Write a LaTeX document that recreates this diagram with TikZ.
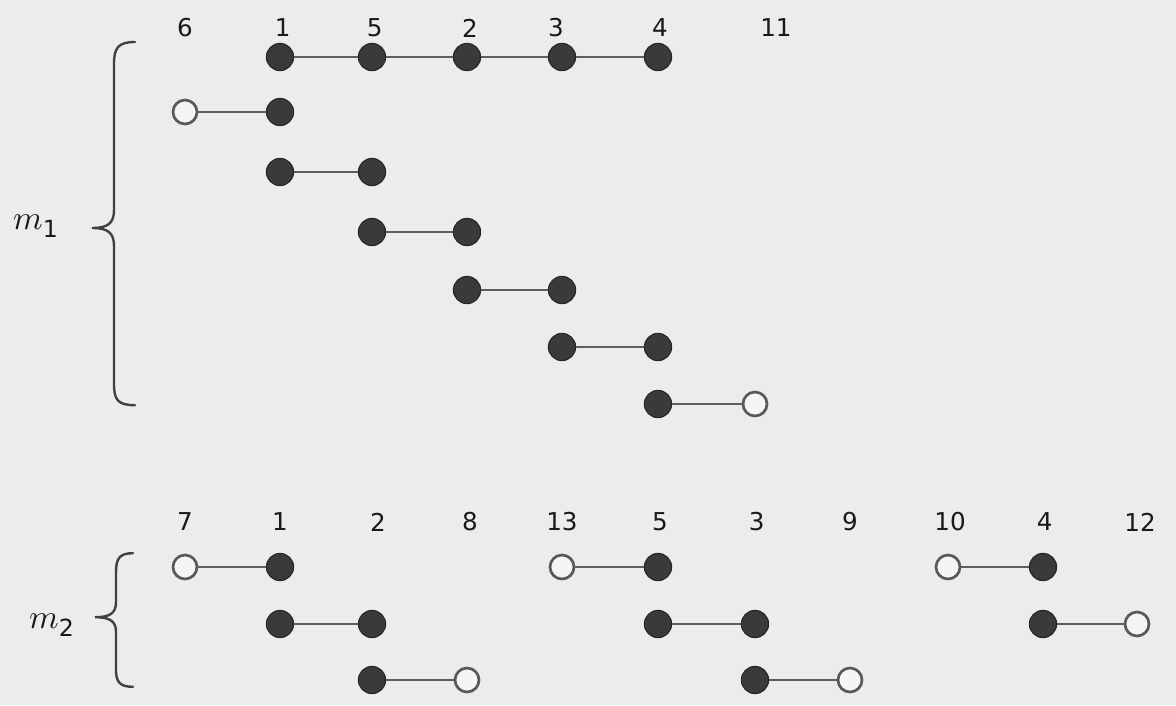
\documentclass[tikz,border=0pt]{standalone}
\usepackage{fontspec}
\usepackage{unicode-math}
\setmainfont{DejaVu Sans}
\setmathfont{Latin Modern Math}

\definecolor{paper}{HTML}{ECECEA}
\definecolor{ink}{HTML}{3A3A3A}
\definecolor{wire}{HTML}{5E5E5E}

\begin{document}
\begin{tikzpicture}[
  every node/.style={font=\fontsize{17.5}{21}\selectfont, text=black!90},
  dot/.style={
    circle,
    draw=black!85,
    fill=ink,
    line width=0.8pt,
    minimum size=0.68cm,
    inner sep=0pt
  },
  hollow/.style={
    circle,
    draw=black!65,
    fill=white!96!black,
    line width=1.9pt,
    minimum size=0.6cm,
    inner sep=0pt
  },
  bar/.style={draw=wire, line width=1.8pt},
  lab/.style={inner sep=0pt},
  curly/.style={draw=black!75, line width=1.7pt, line cap=round},
  setname/.style={font=\fontsize{24}{28}\selectfont, inner sep=0pt},
]

% Paper background.
\fill[paper] (0,0) rectangle (29.4,-17.625);
\useasboundingbox (0,0) rectangle (29.4,-17.625);

% Upper family: column labels.
\node[lab] (l6) at (4.625,-0.7) {6};
\node[lab] (l1) at (7.07,-0.7) {1};
\node[lab] (l5) at (9.37,-0.7) {5};
\node[lab] (l2) at (11.75,-0.7) {2};
\node[lab] (l3) at (13.9,-0.7) {3};
\node[lab] (l4) at (16.5,-0.7) {4};
\node[lab] (l11) at (19.4,-0.7) {11};

% Upper family: the long chain.
\node[dot] (c1) at (7.0,-1.425) {};
\node[dot] (c5) at (9.3,-1.425) {};
\node[dot] (c2) at (11.675,-1.425) {};
\node[dot] (c3) at (14.05,-1.425) {};
\node[dot] (c4) at (16.45,-1.425) {};
\draw[bar] (c1) -- (c5) -- (c2) -- (c3) -- (c4);

% Upper family: the pairs.
\node[hollow] (a6) at (4.625,-2.8) {};
\node[dot] (a1) at (7.0,-2.8) {};
\draw[bar] (a6) -- (a1);

\node[dot] (b1) at (7.0,-4.3) {};
\node[dot] (b5) at (9.3,-4.3) {};
\draw[bar] (b1) -- (b5);

\node[dot] (d5) at (9.3,-5.8) {};
\node[dot] (d2) at (11.675,-5.8) {};
\draw[bar] (d5) -- (d2);

\node[dot] (e2) at (11.675,-7.25) {};
\node[dot] (e3) at (14.05,-7.25) {};
\draw[bar] (e2) -- (e3);

\node[dot] (f3) at (14.05,-8.675) {};
\node[dot] (f4) at (16.45,-8.675) {};
\draw[bar] (f3) -- (f4);

\node[dot] (g4) at (16.45,-10.1) {};
\node[hollow] (g11) at (18.875,-10.1) {};
\draw[bar] (g4) -- (g11);

% Upper brace.
\draw[curly] (3.375,-1.05) .. controls (2.95,-1.05) and (2.85,-1.2) .. (2.85,-1.6)
  -- (2.85,-5.25) .. controls (2.85,-5.58) and (2.7,-5.7) .. (2.3,-5.7)
  .. controls (2.7,-5.7) and (2.85,-5.82) .. (2.85,-6.15)
  -- (2.85,-9.6) .. controls (2.85,-10.0) and (2.95,-10.13) .. (3.375,-10.13);
\node[setname] (m1) at (0.9,-5.65) {$\mathscr{m}_{\mathrm{\large 1}}$};

% Lower family: column labels.
\node[lab] (k7) at (4.625,-13.05) {7};
\node[lab] (k1) at (7.0,-13.05) {1};
\node[lab] (k2) at (9.45,-13.05) {2};
\node[lab] (k8) at (11.75,-13.05) {8};
\node[lab] (k13) at (14.05,-13.05) {13};
\node[lab] (k5) at (16.5,-13.05) {5};
\node[lab] (k3) at (18.92,-13.05) {3};
\node[lab] (k9) at (21.25,-13.05) {9};
\node[lab] (k10) at (23.75,-13.05) {10};
\node[lab] (k4) at (26.12,-13.05) {4};
\node[lab] (k12) at (28.5,-13.05) {12};

% Lower family: first row.
\node[hollow] (p7) at (4.625,-14.175) {};
\node[dot] (p1) at (7.0,-14.175) {};
\draw[bar] (p7) -- (p1);
\node[hollow] (p13) at (14.05,-14.175) {};
\node[dot] (p5) at (16.45,-14.175) {};
\draw[bar] (p13) -- (p5);
\node[hollow] (p10) at (23.7,-14.175) {};
\node[dot] (p4) at (26.075,-14.175) {};
\draw[bar] (p10) -- (p4);

% Lower family: second row.
\node[dot] (q1) at (7.0,-15.6) {};
\node[dot] (q2) at (9.3,-15.6) {};
\draw[bar] (q1) -- (q2);
\node[dot] (q5) at (16.45,-15.6) {};
\node[dot] (q3) at (18.875,-15.6) {};
\draw[bar] (q5) -- (q3);
\node[dot] (q4) at (26.075,-15.6) {};
\node[hollow] (q12) at (28.425,-15.6) {};
\draw[bar] (q4) -- (q12);

% Lower family: third row.
\node[dot] (s2) at (9.3,-17.0) {};
\node[hollow] (s8) at (11.675,-17.0) {};
\draw[bar] (s2) -- (s8);
\node[dot] (s3) at (18.875,-17.0) {};
\node[hollow] (s9) at (21.25,-17.0) {};
\draw[bar] (s3) -- (s9);

% Lower brace.
\draw[curly] (3.325,-13.83) .. controls (3.0,-13.83) and (2.9,-13.95) .. (2.9,-14.3)
  -- (2.9,-15.05) .. controls (2.9,-15.33) and (2.75,-15.43) .. (2.375,-15.43)
  .. controls (2.75,-15.43) and (2.9,-15.53) .. (2.9,-15.8)
  -- (2.9,-16.75) .. controls (2.9,-17.05) and (3.0,-17.17) .. (3.325,-17.17);
\node[setname] (m2) at (1.3,-15.63) {$\mathscr{m}_{\mathrm{\large 2}}$};

\end{tikzpicture}
\end{document}
